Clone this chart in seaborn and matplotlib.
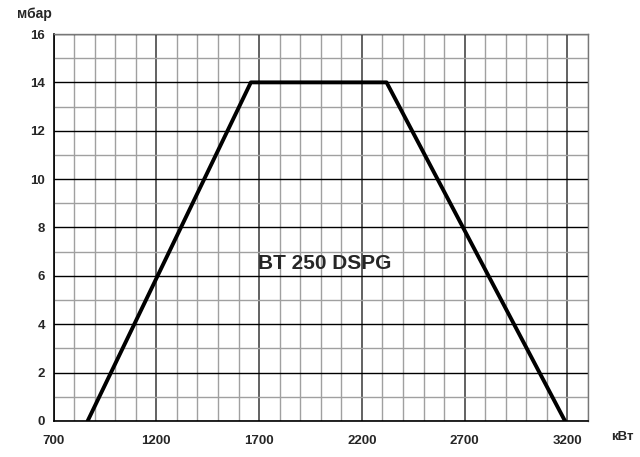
import numpy as np
import pandas as pd
import matplotlib.pyplot as plt
import seaborn as sns

# Data
power_kw = [866, 1660, 2320, 3188]
pressure_mbar = [0, 14, 14, 0]
x_ticks = [700, 1200, 1700, 2200, 2700, 3200]
y_ticks = [0, 2, 4, 6, 8, 10, 12, 14, 16]
model_name = "BT 250 DSPG"

df = pd.DataFrame({"kw": power_kw, "mbar": pressure_mbar})

sns.set_style("white")
plt.rcParams["font.family"] = ["Liberation Sans", "DejaVu Sans"]

fig = plt.figure(figsize=(6.4, 4.57), dpi=100)
ax = fig.add_axes([0.0836, 0.0788, 0.8352, 0.8468])

# Grid
for xv in range(700, 3301, 100):
    major = (xv - 700) % 500 == 0
    ax.axvline(xv, color="#555555" if major else "#a0a0a0",
               lw=1.3 if major else 1.0, zorder=1)
for yv in range(0, 17):
    major = yv % 2 == 0
    ax.axhline(yv, color="black" if major else "#a0a0a0",
               lw=1.0, zorder=1)

sns.lineplot(data=df, x="kw", y="mbar", color="black", lw=2.8, ax=ax,
             sort=False, zorder=3)

ax.set_xlim(700, 3300)
ax.set_ylim(0, 16)
ax.set_xticks(x_ticks)
ax.set_yticks(y_ticks)
ax.set_xticklabels([str(v) for v in x_ticks], fontweight="bold", fontsize=9.5)
ax.set_yticklabels([str(v) for v in y_ticks], fontweight="bold", fontsize=9.5)
ax.tick_params(axis="both", length=4, width=1, color="black", pad=2)
ax.tick_params(axis="x", pad=6)
ax.set_xlabel("")
ax.set_ylabel("")

for side in ["top", "right"]:
    ax.spines[side].set_color("#777777")
    ax.spines[side].set_linewidth(1.0)
for side in ["left", "bottom"]:
    ax.spines[side].set_color("black")
    ax.spines[side].set_linewidth(1.2)

ax.text(2020, 6.5, model_name, fontsize=15, fontweight="bold",
        ha="center", va="center", zorder=4)
fig.text(34 / 640, 1 - 14 / 457, "мбар", fontsize=10, fontweight="bold",
         ha="center", va="center")
fig.text(622 / 640, 1 - 437 / 457, "кВт", fontsize=9.5, fontweight="bold",
         ha="center", va="center")

fig.savefig("out.png", dpi=100)
